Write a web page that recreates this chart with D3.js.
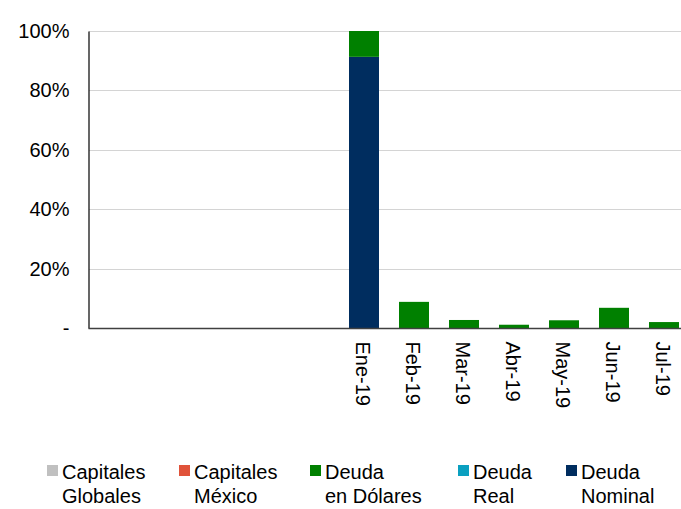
<!DOCTYPE html>
<html><head><meta charset="utf-8">
<script src="https://cdn.jsdelivr.net/npm/d3@7"></script>
<style>body{margin:0;background:#fff}svg{display:block;font-family:"Liberation Sans",Arial,sans-serif}</style>
</head><body>
<svg id="chart" width="681" height="509"></svg>
<script>
const categories = ["", "", "", "", "", "Ene-19", "Feb-19", "Mar-19", "Abr-19", "May-19", "Jun-19", "Jul-19"];
const capitalesGlobales = [0, 0, 0, 0, 0, 0, 0, 0, 0, 0, 0, 0];
const capitalesMexico   = [0, 0, 0, 0, 0, 0, 0, 0, 0, 0, 0, 0];
const deudaDolares      = [0, 0, 0, 0, 0, 0.087, 0.088, 0.027, 0.011, 0.026, 0.068, 0.020];
const deudaReal         = [0, 0, 0, 0, 0, 0, 0, 0, 0, 0, 0, 0];
const deudaNominal      = [0, 0, 0, 0, 0, 0.913, 0, 0, 0, 0, 0, 0];
const yTicks = [0, 0.2, 0.4, 0.6, 0.8, 1.0];
const yTickLabels = ["-", "20%", "40%", "60%", "80%", "100%"];
const seriesNames = ["Capitales\nGlobales", "Capitales\nMéxico", "Deuda\nen Dólares", "Deuda\nReal", "Deuda\nNominal"];
const seriesColors = ["#c0c0c0", "#e0533a", "#008000", "#0aa0c0", "#002d5f"];

const seriesData = [capitalesGlobales, capitalesMexico, deudaDolares, deudaReal, deudaNominal];
const rows = categories.map((c, i) => {
  const r = {idx: i};
  seriesData.forEach((s, k) => r["s" + k] = s[i]);
  return r;
});
// stacking order: Deuda Nominal at bottom
const stackKeys = ["s4", "s3", "s2", "s1", "s0"];
const stacked = d3.stack().keys(stackKeys)(rows);

const svg = d3.select("#chart");
const x = d3.scaleBand().domain(d3.range(categories.length)).range([89, 689]).paddingInner(0.4).paddingOuter(0.2);
const y = d3.scaleLinear().domain([0, 1]).range([328, 31]);

// gridlines
svg.append("g").selectAll("line").data(yTicks.filter(t => t > 0)).join("line")
  .attr("x1", 89).attr("x2", 681)
  .attr("y1", d => Math.round(y(d)) + 0.5).attr("y2", d => Math.round(y(d)) + 0.5)
  .attr("stroke", "#d4d4d4").attr("stroke-width", 1.2);

// bars
stacked.forEach((layer) => {
  const k = +layer.key.slice(1);
  svg.append("g").selectAll("rect").data(layer.filter(d => d[1] - d[0] > 0)).join("rect")
    .attr("x", d => x(d.data.idx))
    .attr("width", x.bandwidth())
    .attr("y", d => y(d[1]))
    .attr("height", d => y(d[0]) - y(d[1]))
    .attr("fill", seriesColors[k]);
});

// y axis
const yAxis = d3.axisLeft(y).tickValues(yTicks).tickFormat((d, i) => yTickLabels[i]).tickSize(0).tickPadding(19);
const ga = svg.append("g").attr("transform", "translate(88.5,0)").call(yAxis);
ga.select(".domain").attr("stroke", "#000").attr("stroke-width", 1.2);
ga.selectAll("text").attr("font-size", 20).attr("fill", "#000").attr("font-family", "Liberation Sans, Arial, sans-serif");

// x axis
const xAxis = d3.axisBottom(x).tickFormat(i => categories[i]).tickSize(0).tickSizeOuter(0);
const gx = svg.append("g").attr("transform", "translate(0,328.5)").call(xAxis);
gx.select(".domain").attr("stroke", "#404040").attr("stroke-width", 1.5).attr("d", "M88.5,0H681");
gx.selectAll("text")
  .attr("font-size", 20).attr("fill", "#000").attr("font-family", "Liberation Sans, Arial, sans-serif")
  .attr("text-anchor", "start").attr("dy", "0.35em")
  .attr("transform", "translate(-1,13) rotate(90)").attr("y", 0).attr("x", 0);

// legend
const legX = [47, 179, 310, 458, 566];
const leg = svg.append("g");
seriesNames.forEach((name, i) => {
  leg.append("rect").attr("x", legX[i]).attr("y", 465).attr("width", 11).attr("height", 11).attr("fill", seriesColors[i]);
  const t = leg.append("text").attr("x", legX[i] + 15).attr("y", 479).attr("font-size", 20).attr("fill", "#000");
  name.split("\n").forEach((ln, j) => t.append("tspan").attr("x", legX[i] + 15).attr("dy", j ? 24 : 0).text(ln));
});
</script>
</body></html>
